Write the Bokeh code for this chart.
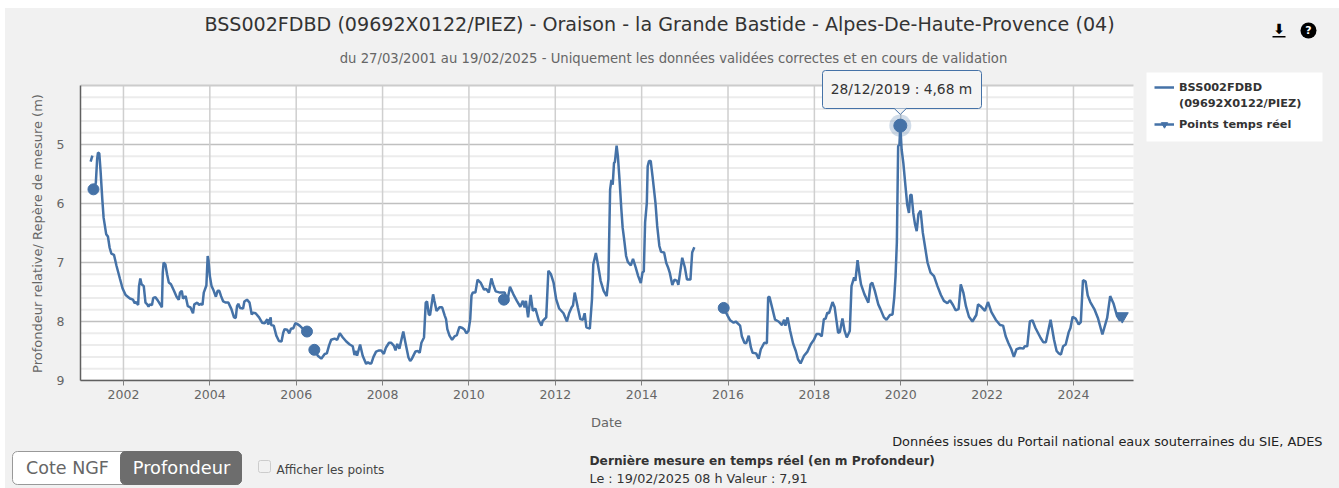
import math
from bokeh.plotting import figure
from bokeh.layouts import column, row
from bokeh.embed import file_html
from bokeh.resources import INLINE
from bokeh.models import Range1d, FixedTicker, Label, BoxAnnotation, Legend, LegendItem

# ---- data (decimal year, depth in m) ----
yr_a = [2001.24, 2001.28]
dp_a = [5.29, 5.19]

yr_b = [2001.305, 2001.36, 2001.39, 2001.41, 2001.44, 2001.47, 2001.51, 2001.54, 2001.6, 2001.64, 2001.68, 2001.72, 2001.78, 2001.84, 2001.92, 2001.98,
        2002.05, 2002.15, 2002.22, 2002.26, 2002.29, 2002.34, 2002.36, 2002.39, 2002.42, 2002.47, 2002.51, 2002.55, 2002.58, 2002.61, 2002.66, 2002.69, 2002.74, 2002.80, 2002.86, 2002.89, 2002.91, 2002.93, 2002.97,
        2003.01, 2003.05, 2003.10, 2003.17, 2003.23, 2003.28, 2003.31, 2003.35, 2003.38, 2003.44, 2003.49, 2003.55, 2003.61, 2003.64, 2003.71, 2003.75, 2003.79, 2003.83, 2003.86, 2003.92, 2003.95, 2003.97,
        2004.0, 2004.04, 2004.09, 2004.14, 2004.18, 2004.22, 2004.26, 2004.31, 2004.37, 2004.43, 2004.50, 2004.56, 2004.60, 2004.63, 2004.66, 2004.70, 2004.77, 2004.80, 2004.86, 2004.92, 2004.97,
        2005.00, 2005.06, 2005.14, 2005.21, 2005.27, 2005.33, 2005.35, 2005.41, 2005.42, 2005.48, 2005.54, 2005.60, 2005.66, 2005.70, 2005.73, 2005.79, 2005.84, 2005.88, 2005.93, 2005.98,
        2006.02, 2006.08, 2006.15, 2006.25]
dp_b = [5.76, 5.65, 5.25, 5.14, 5.15, 5.45, 5.93, 6.24, 6.52, 6.56, 6.75, 6.85, 6.87, 7.06, 7.28, 7.44,
        7.55, 7.61, 7.63, 7.69, 7.67, 7.72, 7.40, 7.27, 7.37, 7.40, 7.68, 7.71, 7.75, 7.71, 7.72, 7.60, 7.59, 7.65, 7.72, 7.76, 7.17, 7.00, 7.03,
        7.20, 7.34, 7.37, 7.48, 7.58, 7.63, 7.51, 7.48, 7.61, 7.57, 7.74, 7.76, 7.86, 7.71, 7.68, 7.72, 7.70, 7.72, 7.51, 7.39, 6.89, 6.97,
        7.23, 7.40, 7.48, 7.58, 7.48, 7.48, 7.57, 7.66, 7.68, 7.68, 7.79, 7.93, 7.94, 7.74, 7.70, 7.77, 7.78, 7.66, 7.63, 7.68, 7.88,
        7.85, 7.86, 7.93, 8.02, 8.03, 7.96, 8.05, 7.93, 8.06, 8.07, 8.24, 8.33, 8.34, 8.19, 8.13, 8.14, 8.20, 8.12, 8.12, 8.03,
        8.04, 8.07, 8.12, 8.17]

yr_c = [2006.42, 2006.50, 2006.58, 2006.66, 2006.71, 2006.76, 2006.81, 2006.89, 2006.95,
        2007.01, 2007.08, 2007.16, 2007.24, 2007.31, 2007.35, 2007.39, 2007.41, 2007.48, 2007.54, 2007.62, 2007.66, 2007.70, 2007.74, 2007.79, 2007.85, 2007.92, 2007.97,
        2008.03, 2008.08, 2008.15, 2008.20, 2008.26, 2008.30, 2008.34, 2008.39, 2008.48, 2008.53, 2008.60, 2008.64, 2008.68, 2008.76, 2008.82, 2008.86, 2008.90, 2008.96,
        2009.00, 2009.03, 2009.07, 2009.10, 2009.17, 2009.20, 2009.25, 2009.32, 2009.38, 2009.44, 2009.47, 2009.50, 2009.55, 2009.61, 2009.67, 2009.72, 2009.78, 2009.85, 2009.90, 2009.94, 2009.99,
        2010.03, 2010.06, 2010.09, 2010.15, 2010.20, 2010.27, 2010.35, 2010.40, 2010.46, 2010.52, 2010.56, 2010.62, 2010.72, 2010.83, 2010.87, 2010.90, 2010.95,
        2011.03, 2011.11, 2011.19, 2011.25, 2011.29, 2011.32, 2011.37, 2011.43, 2011.48, 2011.54, 2011.62, 2011.68, 2011.71, 2011.79, 2011.84, 2011.90, 2011.96,
        2012.02, 2012.09, 2012.19, 2012.27, 2012.32, 2012.38, 2012.41, 2012.45, 2012.52, 2012.58, 2012.64, 2012.68, 2012.72, 2012.80, 2012.85, 2012.88, 2012.94, 2012.98,
        2013.05, 2013.12, 2013.19, 2013.23, 2013.27, 2013.30, 2013.33, 2013.36, 2013.38, 2013.42, 2013.45, 2013.49, 2013.53, 2013.56, 2013.59, 2013.64, 2013.68, 2013.75, 2013.80, 2013.86, 2013.92, 2013.98,
        2014.02, 2014.05, 2014.08, 2014.12, 2014.14, 2014.17, 2014.21, 2014.26, 2014.32, 2014.36, 2014.41, 2014.45, 2014.52, 2014.57, 2014.61, 2014.65, 2014.71, 2014.76, 2014.82, 2014.85, 2014.94,
        2015.0, 2015.05, 2015.13, 2015.17, 2015.22]
dp_c = [8.48, 8.58, 8.63, 8.55, 8.54, 8.41, 8.31, 8.29, 8.31,
        8.20, 8.27, 8.34, 8.39, 8.42, 8.57, 8.50, 8.58, 8.39, 8.58, 8.72, 8.69, 8.71, 8.71, 8.60, 8.51, 8.49, 8.49,
        8.55, 8.44, 8.36, 8.36, 8.41, 8.49, 8.38, 8.46, 8.17, 8.36, 8.61, 8.67, 8.63, 8.51, 8.50, 8.53, 8.36, 8.27,
        7.68, 7.66, 7.88, 7.89, 7.54, 7.65, 7.82, 7.76, 7.76, 7.90, 7.96, 8.13, 8.24, 8.31, 8.25, 8.23, 8.09, 8.11, 8.14, 8.20, 8.16,
        7.96, 7.56, 7.51, 7.51, 7.29, 7.34, 7.46, 7.45, 7.51, 7.27, 7.37, 7.49, 7.51, 7.51, 7.63, 7.61, 7.41,
        7.54, 7.65, 7.75, 7.65, 7.76, 7.65, 7.93, 7.55, 7.82, 7.78, 7.99, 8.07, 7.99, 7.93, 7.14, 7.20, 7.34,
        7.62, 7.78, 7.86, 8.00, 7.86, 7.76, 7.73, 7.51, 7.76, 7.96, 7.97, 7.86, 8.10, 8.12, 7.62, 7.03, 6.84, 7.00,
        7.31, 7.48, 7.57, 7.28, 5.76, 5.60, 5.68, 5.31, 5.30, 5.02, 5.20, 5.62, 6.10, 6.41, 6.58, 6.89, 6.99, 7.05, 6.94, 7.08, 7.23, 7.35,
        7.17, 7.15, 6.32, 5.99, 5.37, 5.28, 5.28, 5.59, 5.99, 6.38, 6.72, 6.82, 6.83, 7.01, 7.08, 7.17, 7.38, 7.29, 7.31, 7.38, 6.92,
        7.08, 7.29, 7.29, 6.83, 6.74]

yr_d = [2015.90, 2015.99, 2016.05, 2016.13, 2016.18, 2016.28, 2016.32, 2016.38, 2016.42, 2016.48, 2016.53, 2016.57, 2016.65, 2016.71, 2016.76, 2016.84, 2016.90, 2016.93, 2016.96,
        2017.03, 2017.09, 2017.17, 2017.25, 2017.30, 2017.33, 2017.38, 2017.44, 2017.51, 2017.57, 2017.62, 2017.68, 2017.76, 2017.84, 2017.92, 2017.99,
        2018.05, 2018.11, 2018.17, 2018.22, 2018.26, 2018.30, 2018.34, 2018.42, 2018.47, 2018.55, 2018.59, 2018.65, 2018.70, 2018.75, 2018.82, 2018.86, 2018.92, 2018.95,
        2019.0, 2019.05, 2019.08, 2019.16, 2019.25, 2019.30, 2019.34, 2019.40, 2019.48, 2019.53, 2019.61, 2019.67, 2019.75, 2019.81, 2019.85, 2019.88, 2019.91, 2019.94, 2019.97, 2019.99,
        2020.02, 2020.06, 2020.11, 2020.15, 2020.19, 2020.22, 2020.25, 2020.29, 2020.33, 2020.37, 2020.41, 2020.46, 2020.51, 2020.56, 2020.62, 2020.69, 2020.77, 2020.85, 2020.93,
        2021.0, 2021.08, 2021.14, 2021.21, 2021.27, 2021.34, 2021.39, 2021.45, 2021.51, 2021.58, 2021.66, 2021.75, 2021.79, 2021.85, 2021.95,
        2022.02, 2022.10, 2022.20, 2022.30, 2022.37, 2022.43, 2022.49, 2022.56, 2022.62, 2022.68, 2022.76, 2022.84, 2022.87, 2022.93, 2022.99,
        2023.05, 2023.12, 2023.24, 2023.30, 2023.36, 2023.47, 2023.55, 2023.61, 2023.66, 2023.71, 2023.76, 2023.82, 2023.89, 2023.93, 2023.98,
        2024.05, 2024.12, 2024.17, 2024.22, 2024.28, 2024.33, 2024.39, 2024.49, 2024.57, 2024.67, 2024.78, 2024.85, 2024.93,
        2025.01, 2025.08]
dp_d = [7.77, 7.90, 7.98, 8.02, 8.00, 8.07, 8.25, 8.36, 8.37, 8.24, 8.44, 8.53, 8.54, 8.63, 8.47, 8.36, 8.37, 7.59, 7.58,
        7.79, 7.97, 8.00, 8.06, 7.97, 8.07, 7.93, 8.16, 8.38, 8.50, 8.64, 8.71, 8.58, 8.51, 8.38, 8.31,
        8.21, 8.21, 8.25, 7.96, 7.95, 7.85, 7.86, 7.67, 7.76, 8.19, 8.18, 7.95, 8.16, 8.27, 8.16, 7.40, 7.25, 7.31,
        6.96, 7.23, 7.37, 7.54, 7.68, 7.37, 7.34, 7.48, 7.71, 7.79, 7.93, 7.97, 7.89, 7.88, 7.59, 7.23, 6.66, 5.03, 5.00, 4.68,
        5.08, 5.31, 5.71, 6.02, 6.16, 5.86, 5.85, 6.16, 6.35, 6.47, 6.18, 6.12, 6.49, 6.72, 7.00, 7.17, 7.23, 7.40, 7.55,
        7.65, 7.69, 7.64, 7.72, 7.81, 7.79, 7.37, 7.51, 7.74, 7.92, 8.00, 7.89, 7.71, 7.74, 7.82,
        7.67, 7.84, 7.97, 8.06, 8.07, 8.25, 8.36, 8.47, 8.60, 8.47, 8.45, 8.46, 8.42, 8.42, 8.00,
        7.98, 8.11, 8.28, 8.35, 8.35, 7.97, 8.31, 8.50, 8.54, 8.56, 8.42, 8.39, 8.18, 8.11, 7.92,
        7.95, 8.05, 8.01, 7.30, 7.32, 7.56, 7.67, 7.80, 7.95, 8.22, 7.94, 7.57, 7.70,
        7.91, 7.99]

iso_years = [2001.305, 2006.25, 2006.42, 2010.81, 2015.90]
iso_depths = [5.76, 8.17, 8.48, 7.63, 7.77]
hover_year = [2019.99]
hover_depth = [4.68]
rt_years = [2025.08, 2025.13]
rt_depths = [7.99, 7.91]
x_ticks = [2002, 2004, 2006, 2008, 2010, 2012, 2014, 2016, 2018, 2020, 2022, 2024]
y_ticks = [5, 6, 7, 8, 9]
y_minor = [4.2, 4.4, 4.6, 4.8, 5.2, 5.4, 5.6, 5.8, 6.2, 6.4, 6.6, 6.8, 7.2, 7.4, 7.6, 7.8, 8.2, 8.4, 8.6, 8.8]
x_start, x_end = 2001.005, 2025.39
y_top, y_bottom = 4, 9

TITLE = "BSS002FDBD (09692X0122/PIEZ) - Oraison - la Grande Bastide - Alpes-De-Haute-Provence (04)"
SUB = "du 27/03/2001 au 19/02/2025 - Uniquement les données validées correctes et en cours de validation"
Y_LABEL = "Profondeur relative/ Repère de mesure (m)"
X_LABEL = "Date"

BLUE = "#4572A7"
BG = "#f1f1f1"
FONT = "DejaVu Sans"

W, H = 1339, 488      # picture size
ML, MT = 5, 8         # white strip left of and above the panel
SIDE = 50             # picture pixel where the y-title strip ends
FL, FB = 80, 380      # picture pixel of the plot rectangle's left / bottom edges
FOOT = 410            # picture pixel where the footer starts
PXY = 43.18           # px per year
PXM = 59.0            # px per metre

def sx(px): return px - FL
def sy(py): return FB - py
def yr_at(px): return x_end + (px - 1133) / PXY
def dp_at(py): return y_top + (py - (FB - 5 * PXM)) / PXM

p = figure(width=W - SIDE, height=FOOT - MT, output_backend="svg", toolbar_location=None,
           x_range=Range1d(x_start, yr_at(W)), y_range=Range1d(y_bottom, dp_at(MT)), frame_align=False,
           min_border_left=FL - SIDE, min_border_right=0, min_border_top=0, min_border_bottom=FOOT - FB,
           background_fill_color=BG, border_fill_color=BG, outline_line_color=None)
p.grid.visible = False

p.xaxis.ticker = FixedTicker(ticks=x_ticks)
p.yaxis.ticker = FixedTicker(ticks=y_ticks)
p.xaxis.major_label_overrides = {t: str(t) for t in x_ticks}
p.xaxis.bounds = (x_start, x_end)
p.yaxis.bounds = (y_top, y_bottom)
for ax in (p.xaxis[0], p.yaxis[0]):
    ax.axis_line_color = "#606060"
    ax.axis_line_width = 1.5
    ax.minor_tick_line_color = None
    ax.major_label_text_color = "#666666"
    ax.major_label_text_font = FONT
    ax.major_label_text_font_size = "12.5px"
p.xaxis.major_tick_in = 0
p.xaxis.major_tick_out = 5
p.xaxis.major_tick_line_color = "#808080"
p.yaxis.major_tick_in = 0
p.yaxis.major_tick_out = 0
p.yaxis.major_tick_line_color = None
p.yaxis.major_label_standoff = 16
p.xaxis.major_label_standoff = 4

# plot rectangle and its grid
p.quad(left=[x_start], right=[x_end], top=[y_top], bottom=[y_bottom], fill_color="white", line_color=None)
p.segment(x0=[x_start] * len(y_minor), x1=[x_end] * len(y_minor), y0=y_minor, y1=y_minor, line_color="#ececec", line_width=2)
p.segment(x0=[x_start] * len(y_ticks), x1=[x_end] * len(y_ticks), y0=y_ticks, y1=y_ticks, line_color="#c0c0c0", line_width=1.5)
p.segment(x0=x_ticks, x1=x_ticks, y0=[y_top] * len(x_ticks), y1=[y_bottom] * len(x_ticks), line_color="#cfcfcf", line_width=1.5)
p.segment(x0=[x_start], x1=[x_end], y0=[y_top], y1=[y_top], line_color="#cccccc", line_width=2)

main = None
for yrs, dps in ((yr_a, dp_a), (yr_b, dp_b), (yr_c, dp_c), (yr_d, dp_d)):
    main = p.line(yrs, dps, line_color=BLUE, line_width=2.5)
p.scatter(iso_years, iso_depths, size=11, marker="circle", fill_color=BLUE, line_color=BLUE)
p.scatter(hover_year, hover_depth, size=22, marker="circle", fill_color=BLUE, fill_alpha=0.25, line_color=None)
p.scatter(hover_year, hover_depth, size=13, marker="circle", fill_color=BLUE, line_color=BLUE)
rt_line = p.line(rt_years, rt_depths, line_color=BLUE, line_width=2.5)
rt_pts = p.scatter(rt_years[-1:], rt_depths[-1:], size=12, marker="inverted_triangle", fill_color=BLUE, line_color=BLUE)
wrap_line = p.line(rt_years, rt_depths, line_alpha=0)   # keeps the wrapped legend row free of a glyph

def label(fig, x, y, text, size, color="#333333", align="left", style="normal", units="screen", **kw):
    fig.add_layout(Label(x=x, y=y, x_units=units, y_units=units, text=text,
                         text_font=FONT, text_font_size=size, text_color=color, text_align=align,
                         text_baseline="middle", text_font_style=style, **kw))

def screen_box(l, r, t, b, fill, line=None, radius=0):
    p.add_layout(BoxAnnotation(left=sx(l), right=sx(r), top=sy(t), bottom=sy(b),
                               left_units="screen", right_units="screen", top_units="screen", bottom_units="screen",
                               fill_color=fill, fill_alpha=1, line_color=line, line_width=1, line_alpha=1,
                               border_radius=radius))

# legend
screen_box(1146, 1322, 72, 141, "white")
legend_style = dict(background_fill_alpha=0, border_line_color=None, label_text_font=FONT,
                    label_text_font_style="bold", label_text_font_size="11.3px", label_text_color="#333333",
                    glyph_width=20, glyph_height=16, label_height=16, label_standoff=5, padding=0, spacing=0, margin=0)
p.add_layout(Legend(items=[LegendItem(label="BSS002FDBD", renderers=[main]),
                           LegendItem(label="(09692X0122/PIEZ)", renderers=[wrap_line])],
                    location=(1154 - FL, FB - 111), **legend_style), "center")
p.add_layout(Legend(items=[LegendItem(label="Points temps réel", renderers=[rt_line, rt_pts])],
                    location=(1154 - FL, FB - 132), **legend_style), "center")

label(p, sx(659), sy(24), TITLE, "19.1px", "#333333", "center")
label(p, sx(673), sy(58), SUB, "13.2px", "#666666", "center")

# tooltip
screen_box(822, 981, 70, 108, "#f4f4f4", BLUE, 3)
label(p, sx(901), sy(88), "28/12/2019 : 4,68 m", "13.8px", "#333333", "center")
tip_x = [hover_year[0] - 0.14, hover_year[0], hover_year[0] + 0.14]
tip_y = [hover_depth[0] - 0.29, hover_depth[0] - 0.19, hover_depth[0] - 0.29]
p.patch(tip_x, tip_y, fill_color="#f4f4f4", line_color=None, level="overlay")
p.line(tip_x, tip_y, line_color=BLUE, line_width=1, level="overlay")

# icons
label(p, sx(1278.5), sy(28), "⬇", "14px", "#000000", "center", "bold")
screen_box(1272, 1285, 35.5, 37, "#000000")
p.scatter([yr_at(1308)], [dp_at(30)], size=16, marker="circle", fill_color="#000000", line_color=None)
label(p, sx(1308), sy(30), "?", "11px", "#ffffff", "center", "bold")

# strip on the left with the title of the y axis: data units are the picture's own pixels
s = figure(width=SIDE - ML, height=FOOT - MT, output_backend="svg", toolbar_location=None,
           x_range=Range1d(ML, SIDE), y_range=Range1d(FOOT, MT), x_axis_type=None, y_axis_type=None, frame_align=False,
           min_border=0, background_fill_color=BG, border_fill_color=BG, outline_line_color=None)
s.grid.visible = False
label(s, 37, 233, Y_LABEL, "13px", "#666666", "center", units="data", angle=math.pi / 2)

# footer: its data units are the picture's own pixels
f = figure(width=W - ML, height=H - FOOT, output_backend="svg", toolbar_location=None,
           x_range=Range1d(ML, W), y_range=Range1d(H, FOOT), x_axis_type=None, y_axis_type=None, frame_align=False,
           min_border=0, background_fill_color=BG, border_fill_color=BG, outline_line_color=None)
f.grid.visible = False

def box(l, r, t, b, fill, line=None, radius=0):
    f.add_layout(BoxAnnotation(left=l, right=r, top=t, bottom=b, fill_color=fill, fill_alpha=1,
                               line_color=line, line_width=1, line_alpha=1, border_radius=radius))

label(f, 606, 422, X_LABEL, "13px", "#666666", "center", units="data")
box(12, 241, 451, 484, "#ffffff", "#999999", 5)
box(120, 241, 451, 484, "#6d6d6d", "#6d6d6d", 5)
label(f, 67, 467, "Cote NGF", "17.5px", "#666666", "center", units="data")
label(f, 181, 467, "Profondeur", "17.8px", "#ffffff", "center", units="data")
box(258, 270, 460, 472, BG, "#cccccc", 2)
label(f, 276, 469, "Afficher les points", "12px", "#444444", units="data")
label(f, 1322, 441, "Données issues du Portail national eaux souterraines du SIE, ADES", "12.9px", "#222222", "right", units="data")
label(f, 589, 460, "Dernière mesure en temps réel (en m Profondeur)", "12.2px", "#333333", style="bold", units="data")
label(f, 589, 478, "Le : 19/02/2025 08 h Valeur : 7,91", "12.75px", "#333333", units="data")

layout = column(row(s, p, spacing=0, styles={"background-color": BG}), f, spacing=0,
                margin=(MT, 0, 0, ML), styles={"background-color": BG})
open("out.html", "w").write(file_html(layout, INLINE))
